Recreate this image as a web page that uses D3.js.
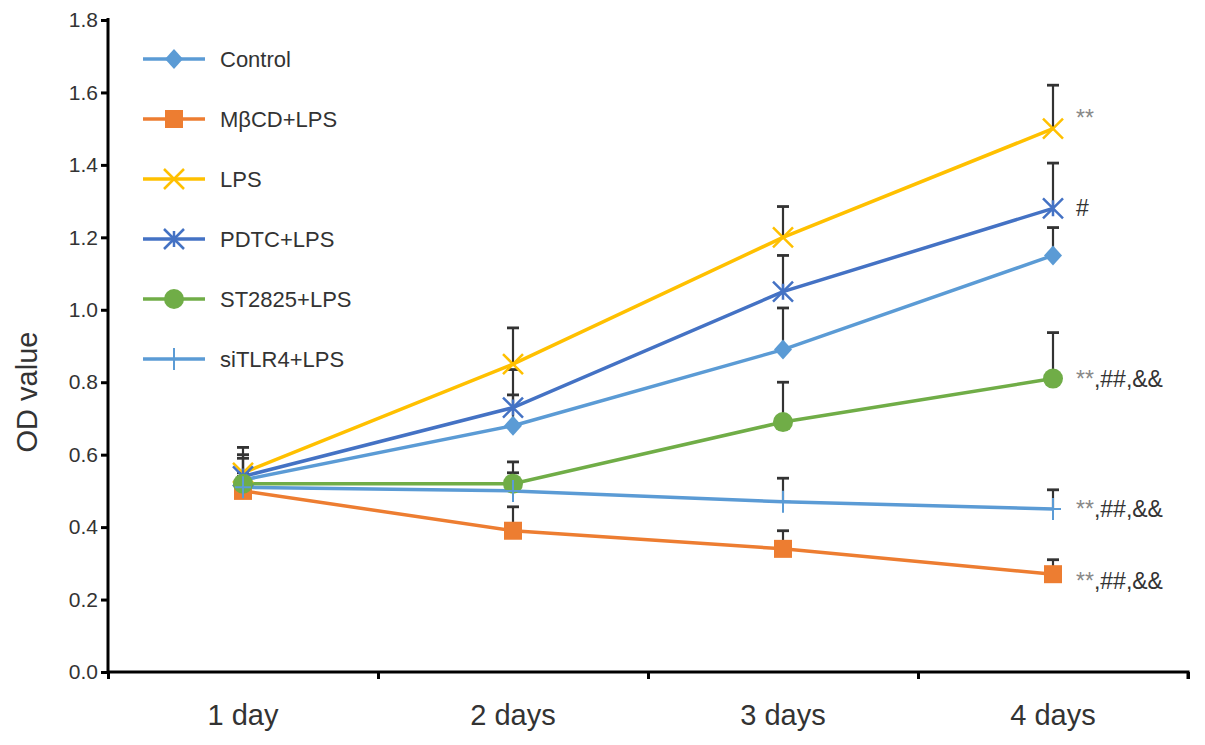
<!DOCTYPE html>
<html lang="en">
<head>
<meta charset="UTF-8">
<title>OD value</title>
<script src="https://d3js.org/d3.v7.min.js"></script>
<style>
  body { margin: 0; background: #fff; }
  text { font-family: "Liberation Sans", Arial, Helvetica, sans-serif; }
</style>
</head>
<body>
<div id="chart"></div>
<script>
// data
const days = ["1 day", "2 days", "3 days", "4 days"];
const groups = ["Control", "MβCD+LPS", "LPS", "PDTC+LPS", "ST2825+LPS", "siTLR4+LPS"];
const control = [0.53, 0.68, 0.89, 1.15];
const mbcd    = [0.50, 0.39, 0.34, 0.27];
const lps     = [0.55, 0.85, 1.20, 1.50];
const pdtc    = [0.54, 0.73, 1.05, 1.28];
const st2825  = [0.52, 0.52, 0.69, 0.81];
const sitlr4  = [0.51, 0.50, 0.47, 0.45];
// upper end of each error bar
const controlErr = [0.60, 0.765, 1.005, 1.227];
const mbcdErr    = [0.52, 0.456, 0.39, 0.31];
const lpsErr     = [0.62, 0.95, 1.285, 1.62];
const pdtcErr    = [0.59, 0.835, 1.15, 1.405];
const st2825Err  = [0.55, 0.58, 0.80, 0.937];
const sitlr4Err  = [0.54, 0.55, 0.535, 0.503];
const yTicks = [0, 0.2, 0.4, 0.6, 0.8, 1.0, 1.2, 1.4, 1.6, 1.8];
const marks = ["**", "#", "**,##,&&", "**,##,&&", "**,##,&&"];
const markValues = [1.53, 1.28, 0.81, 0.45, 0.25];

const series = [
  { name: groups[0], values: control, err: controlErr, color: "#5b9bd5", shape: "diamond" },
  { name: groups[1], values: mbcd,    err: mbcdErr,    color: "#ed7d31", shape: "square" },
  { name: groups[2], values: lps,     err: lpsErr,     color: "#ffc000", shape: "x" },
  { name: groups[3], values: pdtc,    err: pdtcErr,    color: "#4472c4", shape: "star" },
  { name: groups[4], values: st2825,  err: st2825Err,  color: "#70ad47", shape: "circle" },
  { name: groups[5], values: sitlr4,  err: sitlr4Err,  color: "#5b9bd5", shape: "plus" }
];

const W = 1205, H = 745;
const plotL = 108, plotR = 1188, plotT = 20, plotB = 672;

const svg = d3.select("#chart").append("svg")
  .attr("width", W).attr("height", H);

const x = d3.scaleBand().domain(days).range([plotL, plotR]);
const xc = d => x(d) + x.bandwidth() / 2;
const y = d3.scaleLinear().domain([0, 1.8]).range([plotB, plotT]);

// error bars (upper only)
const eb = svg.append("g").attr("stroke", "#333").attr("stroke-width", 2.2);
series.forEach(s => {
  s.values.forEach((v, i) => {
    const cx = xc(days[i]);
    eb.append("line").attr("x1", cx).attr("x2", cx).attr("y1", y(v)).attr("y2", y(s.err[i]));
    eb.append("line").attr("x1", cx - 6).attr("x2", cx + 6).attr("y1", y(s.err[i])).attr("y2", y(s.err[i])).attr("stroke-width", 2.8);
  });
});

// lines
const line = d3.line().x((d, i) => xc(days[i])).y(d => y(d));
series.forEach(s => {
  svg.append("path").datum(s.values)
    .attr("fill", "none").attr("stroke", s.color).attr("stroke-width", 3.5)
    .attr("d", line);
});

function marker(g, shape, color, cx, cy) {
  const m = g.append("g").attr("transform", `translate(${cx},${cy})`);
  if (shape === "diamond") {
    m.append("path").attr("d", "M0,-10L9,0L0,10L-9,0Z").attr("fill", color);
  } else if (shape === "square") {
    m.append("rect").attr("x", -9).attr("y", -9).attr("width", 18).attr("height", 18).attr("fill", color);
  } else if (shape === "circle") {
    m.append("circle").attr("r", 10).attr("fill", color);
  } else if (shape === "x") {
    m.append("path").attr("d", "M-10,-10L10,10M-10,10L10,-10").attr("stroke", color).attr("stroke-width", 2.5);
  } else if (shape === "star") {
    m.append("path").attr("d", "M-10,-10L10,10M-10,10L10,-10M0,-8L0,8").attr("stroke", color).attr("stroke-width", 2.5);
  } else if (shape === "plus") {
    m.append("path").attr("d", "M0,-11L0,11M-8,0L8,0").attr("stroke", color).attr("stroke-width", 2);
  }
}

series.forEach(s => {
  s.values.forEach((v, i) => marker(svg, s.shape, s.color, xc(days[i]), y(v)));
});

// axes
const yAxis = svg.append("g").attr("transform", `translate(${plotL},0)`)
  .call(d3.axisLeft(y).tickValues(yTicks).tickFormat(d3.format(".1f")).tickSize(7).tickPadding(3));
yAxis.select(".domain").attr("stroke-width", 3).attr("d", `M0,${plotT - 2}V${plotB}`);
yAxis.selectAll(".tick line").attr("stroke-width", 3);
yAxis.selectAll(".tick text").attr("font-size", 21).attr("fill", "#333");

const xb = d3.scaleLinear().domain([0, days.length]).range([plotL, plotR]);
const xAxis = svg.append("g").attr("transform", `translate(0,${plotB})`)
  .call(d3.axisBottom(xb).ticks(days.length).tickSize(7).tickFormat(""));
xAxis.select(".domain").attr("stroke-width", 3).attr("d", `M${plotL},0H${plotR}V7`);
xAxis.selectAll(".tick line").attr("stroke-width", 3);

svg.selectAll(".xlab").data(days).enter().append("text")
  .attr("x", d => xc(d)).attr("y", 725)
  .attr("text-anchor", "middle").attr("font-size", 29).attr("fill", "#333")
  .text(d => d);

svg.append("text")
  .attr("transform", "translate(37,392) rotate(-90)")
  .attr("text-anchor", "middle").attr("font-size", 29).attr("fill", "#333")
  .text("OD value");

// legend
const leg = svg.append("g");
series.forEach((s, i) => {
  const ly = 59 + i * 60;
  leg.append("line").attr("x1", 143).attr("x2", 205).attr("y1", ly).attr("y2", ly)
    .attr("stroke", s.color).attr("stroke-width", 3.5);
  marker(leg, s.shape, s.color, 174, ly);
  leg.append("text").attr("x", 220).attr("y", ly + 8)
    .attr("font-size", 22).attr("fill", "#333").text(s.name);
});

// significance marks at 4 days
marks.forEach((m, i) => {
  const t = svg.append("text")
    .attr("x", xc(days[3]) + 23).attr("y", y(markValues[i]) + 8)
    .attr("font-size", 23).attr("fill", "#333");
  if (m.startsWith("**")) {
    t.append("tspan").attr("fill", "#888").text("**");
    t.append("tspan").text(m.slice(2));
  } else {
    t.text(m);
  }
});
</script>
</body>
</html>
